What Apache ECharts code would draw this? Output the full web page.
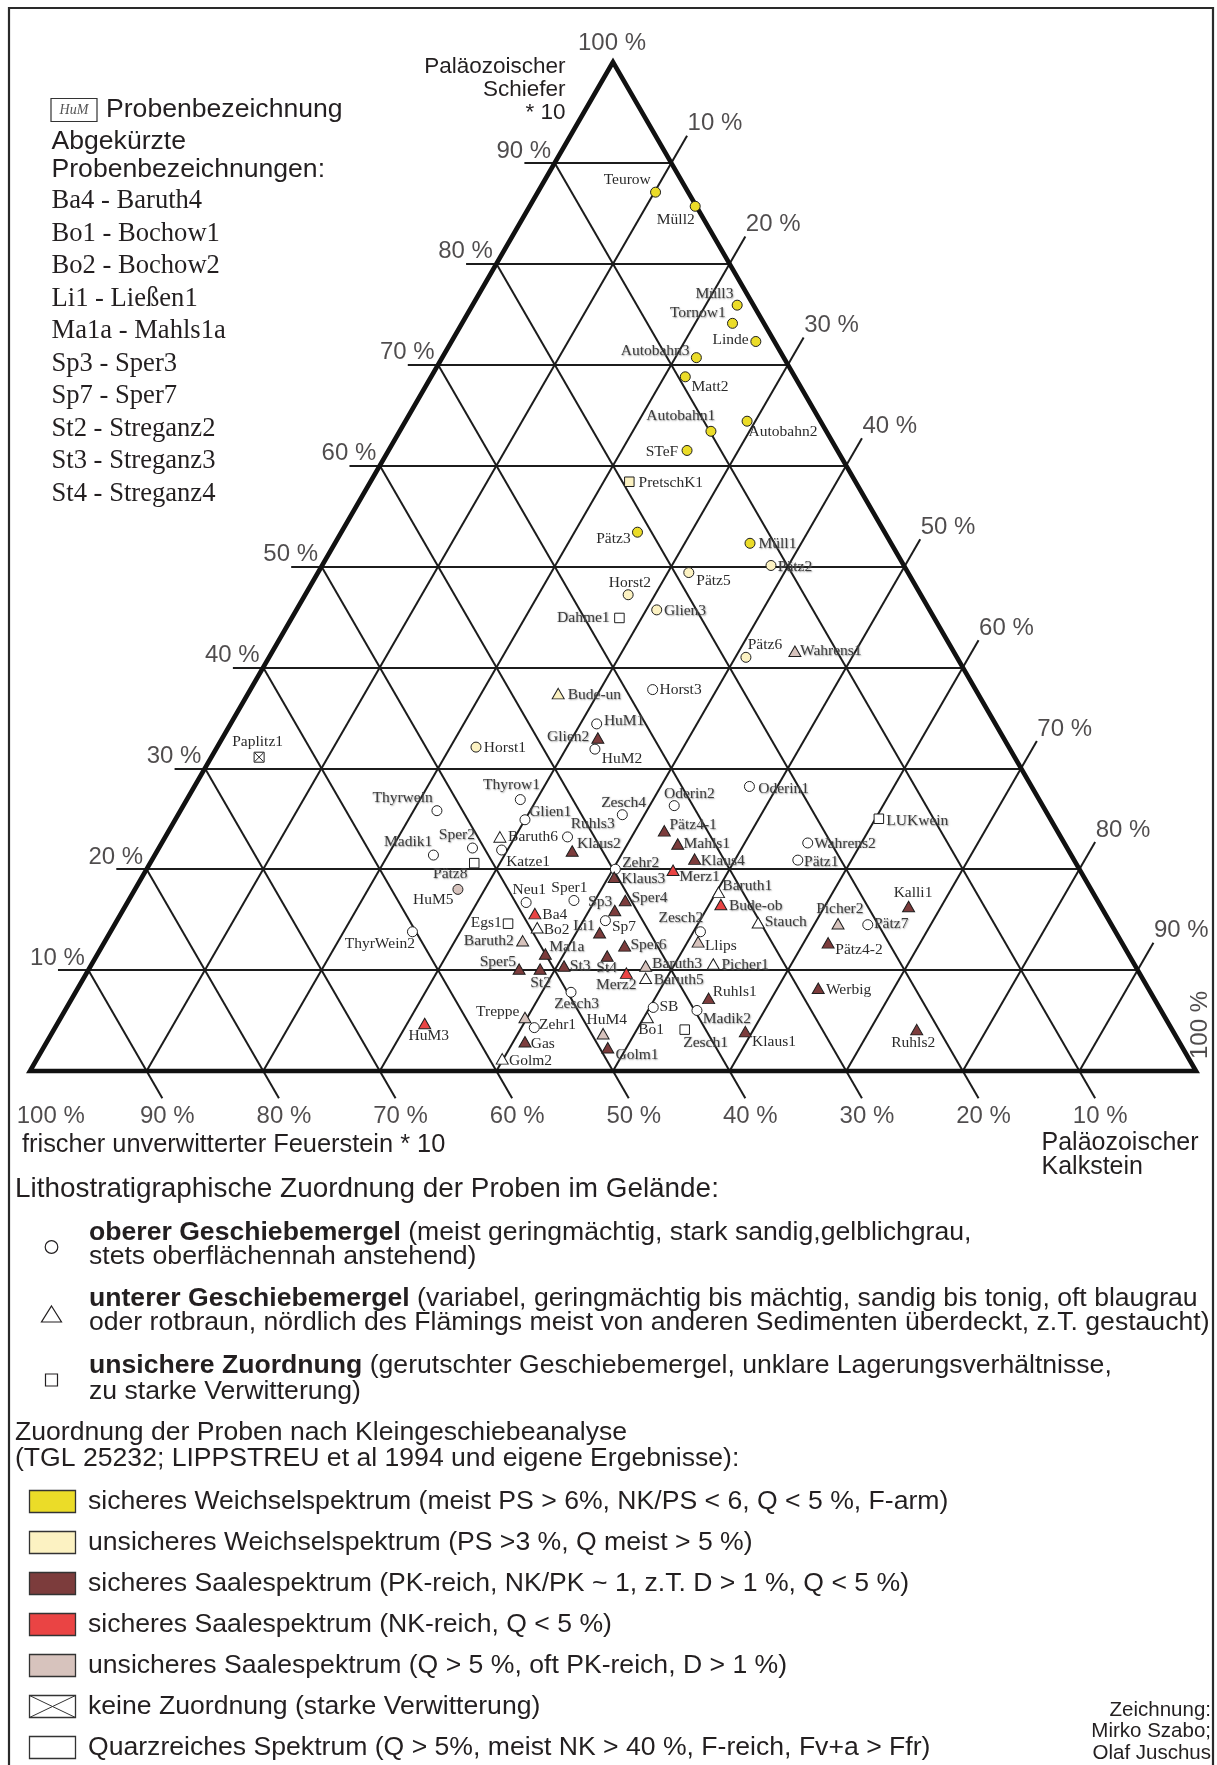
<!DOCTYPE html>
<html>
<head>
<meta charset="utf-8">
<script src="https://cdn.jsdelivr.net/npm/echarts@6/dist/echarts.min.js"></script>
<style>
  html, body { margin: 0; padding: 0; background: #fff; }
  #chart { width: 1217px; height: 1765px; }
</style>
</head>
<body>
<div id="chart"></div>
<script>
// Ternary diagram: Paläozoischer Schiefer (top), Paläozoischer Kalkstein (right),
// frischer unverwitterter Feuerstein (left), all in percent.

const sampleNames = [
  'Teurow','Müll2','Müll3','Tornow1','Linde','Autobahn3','Matt2','Autobahn1','Autobahn2','STeF',
  'PretschK1','Pätz3','Müll1','Pätz2','Pätz5','Horst2','Glien3','Dahme1','Pätz6','Wahrens1',
  'Bude-un','Horst3','HuM1','Glien2','HuM2','Horst1','Paplitz1','Thyrow1','Thyrwein','Glien1',
  'Zesch4','Oderin2','Oderin1','Baruth6','Ruhls3','Klaus2','Pätz4-1','Mahls1','Klaus4','LUKwein',
  'Sper2','Katze1','Madik1','Pätz8','Wahrens2','Pätz1','HuM5','Zehr2','Klaus3','Merz1',
  'Baruth1','Bude-ob','Kalli1','Neu1','Sper1','Ba4','Sp3','Sper4','Egs1','Bo2',
  'Sp7','Li1','Zesch2','Stauch','Picher2','Pätz7','ThyrWein2','Baruth2','Ma1a','Llips',
  'Sper6','Pätz4-2','Sper5','St3','St4','Baruth3','Picher1','St2','Merz2','Baruth5',
  'Werbig','Ruhls1','Zesch3','SB','Madik2','Treppe','HuM4','Bo1','HuM3','Zehr1',
  'Gas','Golm1','Zesch1','Klaus1','Ruhls2','Golm2'
];

// Paläozoischer Schiefer * 10 (%)
const schiefer = [
  87.1, 85.7, 75.9, 74.1, 72.3, 70.7, 68.8, 63.4, 64.4, 61.5,
  58.4, 53.4, 52.3, 50.1, 49.4, 47.2, 45.7, 44.9, 41.0, 41.6,
  37.4, 37.8, 34.4, 33.0, 31.9, 32.1, 31.1, 26.9, 25.8, 24.9,
  25.4, 26.3, 28.2, 23.2, 23.2, 21.8, 23.8, 22.5, 21.0, 25.0,
  22.1, 21.9, 21.4, 20.6, 22.6, 20.9, 18.0, 20.0, 19.2, 19.9,
  17.7, 16.5, 16.3, 16.7, 16.9, 15.6, 15.9, 16.9, 14.6, 14.2,
  14.9, 13.7, 13.8, 14.7, 14.6, 14.5, 13.8, 12.9, 11.6, 12.8,
  12.4, 12.7, 10.1, 10.4, 11.4, 10.4, 10.6, 10.1, 9.7, 9.2,
  8.2, 7.2, 7.8, 6.3, 6.0, 5.3, 3.7, 5.3, 4.7, 4.3,
  2.9, 2.3, 4.1, 3.9, 4.1, 1.2
];

// Paläozoischer Kalkstein (%)
const kalkstein = [
  10.1, 14.2, 22.7, 23.2, 26.1, 21.8, 21.8, 26.7, 29.3, 25.6,
  22.2, 25.4, 35.6, 38.5, 31.8, 27.7, 30.9, 28.1, 40.9, 44.8,
  26.6, 34.5, 31.4, 32.2, 32.5, 22.2, 4.1, 28.6, 22.0, 30.0,
  38.1, 42.1, 47.6, 28.7, 34.5, 35.6, 42.5, 44.3, 46.5, 60.3,
  26.9, 29.5, 23.9, 27.8, 55.4, 55.4, 27.7, 40.2, 40.5, 45.2,
  50.2, 51.0, 67.2, 34.2, 38.2, 35.5, 42.2, 42.6, 33.7, 36.4,
  41.9, 42.0, 50.6, 55.1, 62.0, 64.6, 25.9, 35.8, 38.4, 50.9,
  44.8, 62.1, 36.9, 40.6, 43.8, 47.6, 53.3, 38.7, 46.3, 48.2,
  63.5, 54.6, 42.5, 50.3, 54.2, 39.8, 47.3, 50.3, 31.5, 41.1,
  41.0, 48.4, 54.1, 59.4, 74.0, 39.9
];

// frischer unverwitterter Feuerstein * 10 (%)
const feuerstein = [
  2.8, 0.1, 1.4, 2.7, 1.6, 7.5, 9.4, 9.9, 6.3, 12.9,
  19.4, 21.2, 12.1, 11.4, 18.8, 25.1, 23.4, 27.0, 18.1, 13.6,
  36.0, 27.7, 34.2, 34.8, 35.6, 45.7, 64.8, 44.5, 52.2, 45.1,
  36.5, 31.6, 24.2, 48.1, 42.3, 42.6, 33.7, 33.2, 32.5, 14.7,
  51.0, 48.6, 54.7, 51.6, 22.0, 23.7, 54.3, 39.8, 40.3, 34.9,
  32.1, 32.5, 16.5, 49.1, 44.9, 48.9, 41.9, 40.5, 51.7, 49.4,
  43.2, 44.3, 35.6, 30.2, 23.4, 20.9, 60.3, 51.3, 50.0, 36.3,
  42.8, 25.2, 53.0, 49.0, 44.8, 42.0, 36.1, 51.2, 44.0, 42.6,
  28.3, 38.2, 49.7, 43.4, 39.8, 54.9, 49.0, 44.4, 63.8, 54.6,
  56.1, 49.3, 41.8, 36.7, 21.9, 58.9
];

// Lithostratigraphic field unit: o = oberer, u = unterer Geschiebemergel, n = unsichere Zuordnung
const fieldUnit = [
  'o','o','o','o','o','o','o','o','o','o',
  'n','o','o','o','o','o','o','n','o','u',
  'u','o','o','u','o','o','n','o','o','o',
  'o','o','o','u','o','u','u','u','u','n',
  'o','o','o','n','o','o','o','o','u','u',
  'u','u','u','o','o','u','u','u','n','u',
  'o','u','o','u','u','o','o','u','u','u',
  'u','u','u','u','u','u','u','u','u','u',
  'u','u','o','o','o','u','u','u','u','o',
  'u','u','n','u','u','u'
];

// Kleingeschiebe spectrum: W sicher Weichsel, w unsicher Weichsel, S sicher Saale (PK),
// N sicher Saale (NK), s unsicher Saale, X keine Zuordnung, Q quarzreich
const spectrum = [
  'W','W','W','W','W','W','W','W','W','W',
  'w','W','W','w','w','w','w','Q','w','s',
  'w','Q','Q','S','Q','w','X','Q','Q','Q',
  'Q','Q','Q','Q','Q','S','S','S','S','Q',
  'Q','Q','Q','Q','Q','Q','s','Q','S','N',
  'Q','N','S','Q','Q','N','S','S','Q','Q',
  'Q','S','Q','Q','s','Q','Q','s','S','s',
  'S','S','S','S','S','s','Q','S','N','Q',
  'S','S','Q','Q','Q','s','s','Q','N','Q',
  'S','S','Q','S','S','Q'
];

// Axis ticks
const schieferTicks = [10, 20, 30, 40, 50, 60, 70, 80, 90];
const schieferTickLabels = ['10 %','20 %','30 %','40 %','50 %','60 %','70 %','80 %','90 %'];
const kalksteinTicks = [10, 20, 30, 40, 50, 60, 70, 80, 90];
const kalksteinTickLabels = ['10 %','20 %','30 %','40 %','50 %','60 %','70 %','80 %','90 %'];
const feuersteinTicks = [10, 20, 30, 40, 50, 60, 70, 80, 90];
const feuersteinLabelValues = [100, 90, 80, 70, 60, 50, 40, 30, 20, 10];
const feuersteinTickLabels = ['100 %','90 %','80 %','70 %','60 %','50 %','40 %','30 %','20 %','10 %'];

// ---- styling ----
const SPECTRUM_COLORS = {
  W: '#ebdc28', w: '#fcf2c2', S: '#7c3c3c', N: '#ea4444', s: '#d7c3bd', X: '#ffffff', Q: '#ffffff'
};
const UNIT_SYMBOL = { o: 'circle', u: 'triangle', n: 'rect' };
const UNIT_SIZE = { o: [10, 10], u: [12, 10.5], n: [9.5, 9.5] };
const CROSS_BOX = 'path://M0,0L10,0L10,10L0,10Z M0.8,0.8L9.2,9.2 M9.2,0.8L0.8,9.2';
const TICK = 2.7;      // tick length outside the triangle, in percent
const LEFT_TICK = 2.6;

// label offset from marker centre: [dx, dy, anchor]  (l = text starts, r = text ends, c = centred)
const labelPlacement = {
  'Teurow': [-4.3, -12, 'r'], 'Müll2': [0, 14, 'r'], 'Müll3': [-3.3, -10.7, 'r'],
  'Tornow1': [-6.3, -9.7, 'r'], 'Linde': [-6.7, -1.3, 'r'], 'Autobahn3': [-6.3, -6.3, 'r'],
  'Matt2': [6.7, 11, 'l'], 'Autobahn1': [4.7, -15, 'r'], 'Autobahn2': [2, 11.3, 'l'],
  'STeF': [-8.3, 2, 'r'], 'PretschK1': [9.7, 2, 'l'], 'Pätz3': [-6.3, 7.3, 'r'],
  'Müll1': [9, 1.3, 'l'], 'Pätz2': [7.3, 1.7, 'l'], 'Pätz5': [8, 9, 'l'],
  'Horst2': [2.3, -11.7, 'c'], 'Glien3': [7.7, 1.7, 'l'], 'Dahme1': [-9.3, 0, 'r'],
  'Pätz6': [2.3, -12, 'l'], 'Wahrens1': [5.7, 0, 'l'], 'Bude-un': [10, 1.7, 'l'],
  'Horst3': [7.3, 0.7, 'l'], 'HuM1': [7.7, -2, 'l'], 'Glien2': [-8, -0.7, 'r'],
  'HuM2': [7.3, 10, 'l'], 'Horst1': [8.3, 1.3, 'l'], 'Paplitz1': [-1, -15, 'c'],
  'Thyrow1': [-8.3, -13.7, 'c'], 'Thyrwein': [-3.7, -12, 'r'], 'Glien1': [4.7, -7.3, 'l'],
  'Zesch4': [1.7, -11.7, 'c'], 'Oderin2': [15.7, -11.3, 'c'], 'Oderin1': [9.3, 3.3, 'l'],
  'Baruth6': [8.7, 0.7, 'l'], 'Ruhls3': [3.7, -12, 'l'], 'Klaus2': [5.3, -7, 'l'],
  'Pätz4-1': [5.7, -5, 'l'], 'Mahls1': [6.3, 0, 'l'], 'Klaus4': [6.7, 2, 'l'],
  'LUKwein': [8, 2.7, 'l'], 'Sper2': [3, -12.3, 'r'], 'Katze1': [5, 12.7, 'l'],
  'Madik1': [-0.7, -12.7, 'r'], 'Pätz8': [-6.3, 11, 'r'], 'Wahrens2': [7, 1, 'l'],
  'Pätz1': [6.7, 2.7, 'l'], 'HuM5': [-4, 11.3, 'r'], 'Zehr2': [7.3, -6, 'l'],
  'Klaus3': [7.7, 2.3, 'l'], 'Merz1': [6.7, 6.7, 'l'], 'Baruth1': [4.3, -5.7, 'l'],
  'Bude-ob': [8.7, 1.7, 'l'], 'Kalli1': [5, -13.3, 'c'], 'Neu1': [3.7, -12.3, 'c'],
  'Sper1': [-4, -12, 'c'], 'Ba4': [8, 1.3, 'l'], 'Sp3': [-2, -8, 'r'],
  'Sper4': [6.7, -2.3, 'l'], 'Egs1': [-5.7, 0, 'r'], 'Bo2': [7, 3, 'l'],
  'Sp7': [7, 6.7, 'l'], 'Li1': [-4.3, -6.3, 'r'], 'Zesch2': [3.3, -13, 'r'],
  'Stauch': [7, 0, 'l'], 'Picher2': [2.3, -14.3, 'c'], 'Pätz7': [6.7, 0, 'l'],
  'ThyrWein2': [3, 13, 'r'], 'Baruth2': [-8.3, 0.7, 'r'], 'Ma1a': [4.3, -6.7, 'l'],
  'Llips': [7.3, 4.3, 'l'], 'Sper6': [6.3, 0, 'l'], 'Pätz4-2': [7.7, 7.3, 'l'],
  'Sper5': [-2.7, -6.3, 'r'], 'St3': [6.3, 0.3, 'l'], 'St4': [0, 12.7, 'c'],
  'Baruth3': [7, -2, 'l'], 'Picher1': [8.7, 1.7, 'l'], 'St2': [1, 14, 'c'],
  'Merz2': [-9.7, 12.7, 'c'], 'Baruth5': [8.7, 2.3, 'l'], 'Werbig': [8.3, 1.7, 'l'],
  'Ruhls1': [4.7, -6, 'l'], 'Zesch3': [6, 12, 'c'], 'SB': [6.7, 0, 'l'],
  'Madik2': [6.3, 9, 'l'], 'Treppe': [-5, -4.7, 'r'], 'HuM4': [4.3, -13, 'c'],
  'Bo1': [4.3, 13, 'c'], 'HuM3': [4.7, 13.3, 'c'], 'Zehr1': [5.3, -2, 'l'],
  'Gas': [6.3, 3, 'l'], 'Golm1': [8.3, 7.3, 'l'], 'Zesch1': [-1, 13.3, 'l'],
  'Klaus1': [7.3, 11, 'l'], 'Ruhls2': [-3, 13.3, 'c'], 'Golm2': [7.3, 2.3, 'l']
};
const ALIGN = { l: 'left', r: 'right', c: 'center' };

// names printed with a grey shadow
const haloLabels = new Set([
  'Müll3','Tornow1','Autobahn3','Autobahn1','Müll1','Pätz2','Glien3','Dahme1','Wahrens1','Bude-un',
  'HuM1','Glien2','Thyrow1','Thyrwein','Glien1','Zesch4','Oderin2','Ruhls3','Klaus2','Pätz4-1',
  'Mahls1','Klaus4','Sper2','Madik1','Pätz8','Zehr2','Klaus3','Merz1','Sp3','Sper4','Li1','Baruth1',
  'Bude-ob','Zesch2','Oderin1','LUKwein','Wahrens2','Pätz1','Picher2','Pätz7','Stauch','Ma1a',
  'Sper5','St2','St3','St4','Zesch3','Sper6','Baruth3','Picher1','Merz2','Baruth5','Madik2',
  'Zesch1','Golm1','Baruth2'
]);

// ---- ternary helpers ----
const SQ = Math.sqrt(3) / 2;
const YMAX = 100 * SQ;
function toXY(s, k) { return [k + s / 2, s * SQ]; }
function ternXY(s, k, f) { const t = s + k + f; return toXY(s / t * 100, k / t * 100); }

// grid lines of the three families, each extended outside the triangle as a tick
const gridSegments = [];
schieferTicks.forEach(p => gridSegments.push({ coords: [toXY(p, -LEFT_TICK), toXY(p, 100 - p)] }));
kalksteinTicks.forEach(p => gridSegments.push({ coords: [toXY(0, p), toXY(100 - p + TICK, p)] }));
feuersteinTicks.forEach(p => gridSegments.push({ coords: [toXY(-TICK, 100 - p + TICK), toXY(100 - p, 0)] }));

const outline = [{ coords: [toXY(100, 0), toXY(0, 0), toXY(0, 100), toXY(100, 0), toXY(0, 0)] }];

// axis tick labels, anchored at ternary positions
const tickLabelData = [];
function tickLabel(pos, text, dx, dy, align, rotate) {
  tickLabelData.push({
    value: pos, name: text,
    label: { position: [0.5 + dx, 0.5 + dy], align, verticalAlign: 'middle', rotate: rotate || 0 }
  });
}
schieferTicks.forEach((p, i) => tickLabel(toXY(p, 0), schieferTickLabels[i], -3.5, -12, 'right'));
tickLabel(toXY(100, 0), '100 %', -1, -19, 'center');
kalksteinTicks.forEach((p, i) => tickLabel(toXY(100 - p + TICK, p), kalksteinTickLabels[i], 0.5, -12, 'left'));
tickLabel(toXY(0, 100), '100 %', 4, -46, 'center', 90);
feuersteinLabelValues.forEach((p, i) => tickLabel(toXY(-TICK, 100 - p + TICK), feuersteinTickLabels[i], 5, 18, 'center'));

// sample markers
const sampleData = sampleNames.map((name, i) => {
  const unit = fieldUnit[i];
  const spec = spectrum[i];
  const size = spec === 'X' ? [10, 10] : UNIT_SIZE[unit];
  const lp = labelPlacement[name];
  const halo = haloLabels.has(name);
  return {
    name,
    value: ternXY(schiefer[i], kalkstein[i], feuerstein[i]),
    symbol: spec === 'X' ? CROSS_BOX : UNIT_SYMBOL[unit],
    symbolSize: size,
    symbolKeepAspect: true,
    itemStyle: { color: SPECTRUM_COLORS[spec] },
    label: {
      position: [size[0] / 2 + lp[0], size[1] / 2 + lp[1]],
      align: ALIGN[lp[2]],
      verticalAlign: 'middle',
      color: halo ? '#3c3c3c' : '#2a2a2a',
      textShadowColor: halo ? 'rgba(120,120,120,0.75)' : 'transparent',
      textShadowBlur: halo ? 1.5 : 0,
      textShadowOffsetX: halo ? 0.8 : 0,
      textShadowOffsetY: halo ? 0.8 : 0
    }
  };
});

// ---- page graphics: frame, legends, captions ----
const INK = '#231f20';
const SANS = '"Liberation Sans", Arial, sans-serif';
const SERIF = '"Liberation Serif", "Times New Roman", serif';
function text(x, y, str, size, extra) {
  return {
    type: 'text', x, y, silent: true,
    style: Object.assign({ text: str, fill: INK, font: size + 'px ' + SANS, align: 'left', verticalAlign: 'middle' }, extra || {})
  };
}
const graphics = [];
// frame
graphics.push({ type: 'polyline', silent: true, shape: { points: [[9, 1765], [9, 8], [1213, 8], [1213, 1765]] },
  style: { stroke: '#2a2a2a', lineWidth: 2.2, fill: null } });

// name legend, top left
graphics.push({ type: 'rect', silent: true, shape: { x: 51, y: 98.5, width: 46, height: 23 },
  style: { fill: '#fff', stroke: '#333', lineWidth: 1.2 } });
graphics.push(text(74, 110.5, 'HuM', 14, { align: 'center', font: 'italic 14px ' + SERIF, fill: '#555' }));
graphics.push(text(106, 109.5, 'Probenbezeichnung', 26.6));
graphics.push(text(51.5, 141.5, 'Abgekürzte', 26.6));
graphics.push(text(51.5, 169.5, 'Probenbezeichnungen:', 26.6));
const abbreviations = ['Ba4 - Baruth4','Bo1 - Bochow1','Bo2 - Bochow2','Li1 - Ließen1','Ma1a - Mahls1a',
  'Sp3 - Sper3','Sp7 - Sper7','St2 - Streganz2','St3 - Streganz3','St4 - Streganz4'];
abbreviations.forEach((a, i) => graphics.push(text(51.5, 201.5 + i * 32.5, a, 26.6, { font: '26.6px ' + SERIF })));

// corner captions
['Paläozoischer', 'Schiefer', '* 10'].forEach((t, i) =>
  graphics.push(text(565.5, 66.5 + i * 23.3, t, 22.5, { align: 'right' })));
graphics.push(text(22, 1145, 'frischer unverwitterter Feuerstein * 10', 25.4));
graphics.push(text(1041.5, 1143.5, 'Paläozoischer', 25));
graphics.push(text(1041.5, 1167.5, 'Kalkstein', 25));

// lithostratigraphy legend
const LEG = 26.6;
graphics.push(text(15, 1189, 'Lithostratigraphische Zuordnung der Proben im Gelände:', 27.9));
const bold = { b: { font: 'bold ' + LEG + 'px ' + SANS, fill: INK } };
graphics.push({ type: 'circle', silent: true, shape: { cx: 51.5, cy: 1247, r: 6.3 }, style: { fill: '#fff', stroke: INK, lineWidth: 1.2 } });
graphics.push(text(89, 1232.5, '{b|oberer Geschiebemergel} (meist geringmächtig, stark sandig,gelblichgrau,', LEG, { rich: bold }));
graphics.push(text(89, 1257, 'stets oberflächennah anstehend)', LEG));
graphics.push({ type: 'polygon', silent: true, shape: { points: [[51.5, 1306], [61.5, 1322], [41.5, 1322]] }, style: { fill: '#fff', stroke: INK, lineWidth: 1.2 } });
graphics.push(text(89, 1299, '{b|unterer Geschiebemergel} (variabel, geringmächtig bis mächtig, sandig bis tonig, oft blaugrau', LEG, { rich: bold }));
graphics.push(text(89, 1323, 'oder rotbraun, nördlich des Flämings meist von anderen Sedimenten überdeckt, z.T. gestaucht)', LEG));
graphics.push({ type: 'rect', silent: true, shape: { x: 45.5, y: 1374, width: 12, height: 12 }, style: { fill: '#fff', stroke: INK, lineWidth: 1.2 } });
graphics.push(text(89, 1365.5, '{b|unsichere Zuordnung} (gerutschter Geschiebemergel, unklare Lagerungsverhältnisse,', LEG, { rich: bold }));
graphics.push(text(89, 1392, 'zu starke Verwitterung)', LEG));

// spectrum legend
graphics.push(text(15, 1433, 'Zuordnung der Proben nach Kleingeschiebeanalyse', LEG));
graphics.push(text(15, 1459, '(TGL 25232; LIPPSTREU et al 1994 und eigene Ergebnisse):', LEG));
const spectrumLegend = [
  ['W', 'sicheres Weichselspektrum (meist PS > 6%, NK/PS < 6, Q < 5 %, F-arm)'],
  ['w', 'unsicheres Weichselspektrum (PS >3 %, Q meist > 5 %)'],
  ['S', 'sicheres Saalespektrum (PK-reich, NK/PK ~ 1, z.T. D > 1 %, Q < 5 %)'],
  ['N', 'sicheres Saalespektrum (NK-reich, Q < 5 %)'],
  ['s', 'unsicheres Saalespektrum (Q > 5 %, oft PK-reich, D > 1 %)'],
  ['X', 'keine Zuordnung (starke Verwitterung)'],
  ['Q', 'Quarzreiches Spektrum (Q > 5%, meist NK > 40 %, F-reich, Fv+a > Ffr)']
];
spectrumLegend.forEach(([code, label], i) => {
  const y = 1490.5 + i * 41;
  graphics.push({ type: 'rect', silent: true, shape: { x: 29.5, y, width: 46, height: 22 },
    style: { fill: SPECTRUM_COLORS[code], stroke: '#333', lineWidth: 1.3 } });
  if (code === 'X') {
    graphics.push({ type: 'polyline', silent: true, shape: { points: [[29.5, y], [75.5, y + 22]] }, style: { stroke: '#333', lineWidth: 1 } });
    graphics.push({ type: 'polyline', silent: true, shape: { points: [[75.5, y], [29.5, y + 22]] }, style: { stroke: '#333', lineWidth: 1 } });
  }
  graphics.push(text(88, y + 11, label, LEG));
});

// credits
['Zeichnung:', 'Mirko Szabo;', 'Olaf Juschus'].forEach((t, i) =>
  graphics.push(text(1211, 1710 + i * 21.7, t, 20.5, { align: 'right' })));

// ---- chart ----
const chart = echarts.init(document.getElementById('chart'), null, { renderer: 'canvas' });
chart.setOption({
  backgroundColor: '#ffffff',
  animation: false,
  grid: { left: 30, top: 62, width: 1166, height: 1009 },
  xAxis: { type: 'value', min: 0, max: 100, show: false },
  yAxis: { type: 'value', min: 0, max: YMAX, show: false },
  graphic: graphics,
  series: [
    {
      type: 'lines', coordinateSystem: 'cartesian2d', silent: true, clip: false, z: 1,
      data: gridSegments,
      lineStyle: { color: '#1c1c1c', width: 2, opacity: 1 }
    },
    {
      type: 'lines', coordinateSystem: 'cartesian2d', polyline: true, silent: true, clip: false, z: 2,
      data: outline,
      lineStyle: { color: '#111', width: 4.6, opacity: 1, join: 'miter', cap: 'butt' }
    },
    {
      type: 'scatter', silent: true, clip: false, z: 3,
      symbolSize: 1,
      itemStyle: { color: 'rgba(0,0,0,0)' },
      label: { show: true, formatter: '{b}', color: INK, fontFamily: SANS, fontSize: 24 },
      emphasis: { disabled: true },
      data: tickLabelData
    },
    {
      type: 'scatter', silent: true, clip: false, z: 4,
      itemStyle: { borderColor: '#1e1e1e', borderWidth: 1, opacity: 1 },
      label: { show: true, formatter: '{b}', fontFamily: SERIF, fontSize: 15.5 },
      emphasis: { disabled: true },
      labelLayout: { hideOverlap: false },
      data: sampleData
    }
  ]
});
</script>
</body>
</html>
